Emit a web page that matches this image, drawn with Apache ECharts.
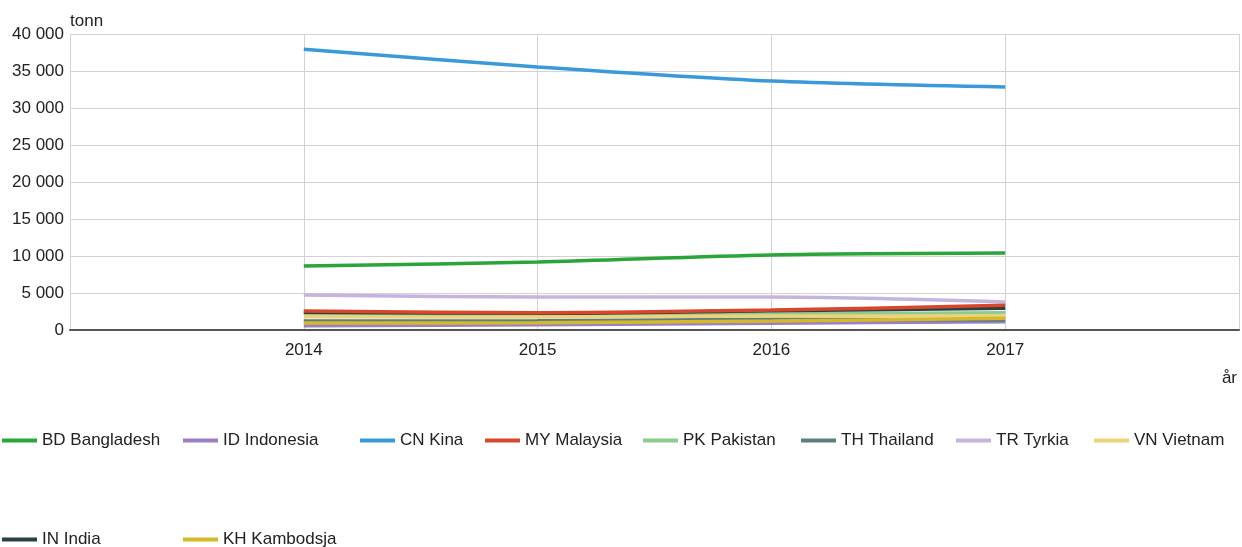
<!DOCTYPE html>
<html>
<head>
<meta charset="utf-8">
<script src="https://cdn.jsdelivr.net/npm/echarts@6/dist/echarts.min.js"></script>
<style>
  html, body { margin: 0; padding: 0; background: #fff; }
  #chart { width: 1242px; height: 547px; }
</style>
</head>
<body>
<div id="chart"></div>
<script>
// years on the x axis
const years = [2014, 2015, 2016, 2017]

// tonnes per country
const bangladesh = [8650, 9200, 10150, 10400]
const indonesia = [560, 700, 900, 1130]
const kina = [37950, 35550, 33650, 32850]
const malaysia = [2570, 2340, 2700, 3330]
const pakistan = [2200, 2030, 2160, 2340]
const thailand = [1200, 1260, 1440, 1350]
const tyrkia = [4730, 4460, 4460, 3800]
const vietnam = [1800, 1750, 1890, 1890]
const india = [2400, 2250, 2600, 2950]
const kambodsja = [950, 990, 1200, 1600]

const seriesList = [
  { name: 'BD Bangladesh', data: bangladesh, color: '#2aa639', z: 2 },
  { name: 'ID Indonesia', data: indonesia, color: '#9a7fc4', z: 2 },
  { name: 'CN Kina', data: kina, color: '#3a9ad9', z: 2 },
  { name: 'MY Malaysia', data: malaysia, color: '#d9472b', z: 3 },
  { name: 'PK Pakistan', data: pakistan, color: '#8dcc8d', z: 2 },
  { name: 'TH Thailand', data: thailand, color: '#5a7f80', z: 2 },
  { name: 'TR Tyrkia', data: tyrkia, color: '#c3b5dd', z: 2 },
  { name: 'VN Vietnam', data: vietnam, color: '#ecd27c', z: 2 },
  { name: 'IN India', data: india, color: '#2b3f45', z: 2 },
  { name: 'KH Kambodsja', data: kambodsja, color: '#d4b92a', z: 2 }
]

// legend slots (left, top) like the table layout in the original
const legendPos = [
  [2, 432], [183, 432], [360, 432], [485, 432], [643, 432],
  [801, 432], [956, 432], [1094, 432], [2, 531], [183, 531]
]

const fmt = v => String(v).replace(/\B(?=(\d{3})+(?!\d))/g, ' ')
const font = 'Liberation Sans, Arial, sans-serif'

const chart = echarts.init(document.getElementById('chart'))

const option = {
  animation: false,
  textStyle: { fontFamily: font },
  grid: { left: 70, right: 2, top: 34, bottom: 217 },
  legend: seriesList.map((s, i) => ({
    left: legendPos[i][0],
    top: legendPos[i][1],
    data: [s.name],
    icon: 'rect',
    itemWidth: 35,
    itemHeight: 4,
    padding: 0,
    textStyle: { fontSize: 17, color: '#222' }
  })),
  xAxis: {
    type: 'value',
    min: 2013,
    max: 2018,
    interval: 1,
    axisLine: { show: true, lineStyle: { color: '#555', width: 2 } },
    axisTick: { show: false },
    axisLabel: {
      fontSize: 17,
      color: '#222',
      margin: 12,
      formatter: v => (v === 2013 || v === 2018) ? '' : String(v)
    },
    splitLine: { show: true, lineStyle: { color: '#d3d3d3' } }
  },
  yAxis: {
    type: 'value',
    min: 0,
    max: 40000,
    interval: 5000,
    name: 'tonn',
    nameLocation: 'end',
    nameGap: 4,
    nameTextStyle: { align: 'left', fontSize: 17, color: '#222' },
    axisLine: { show: false },
    axisTick: { show: false },
    axisLabel: { fontSize: 17, color: '#222', margin: 6, formatter: fmt },
    splitLine: { lineStyle: { color: '#d3d3d3' } }
  },
  graphic: [
    {
      type: 'text',
      right: 5,
      top: 370,
      style: { text: 'år', fontSize: 17, fill: '#222', fontFamily: font }
    }
  ],
  series: seriesList.map(s => ({
    name: s.name,
    type: 'line',
    smooth: 0.3,
    symbol: 'none',
    z: s.z,
    color: s.color,
    lineStyle: { width: 3.5, color: s.color },
    data: s.data.map((v, i) => [years[i], v])
  }))
}

chart.setOption(option)
</script>
</body>
</html>
